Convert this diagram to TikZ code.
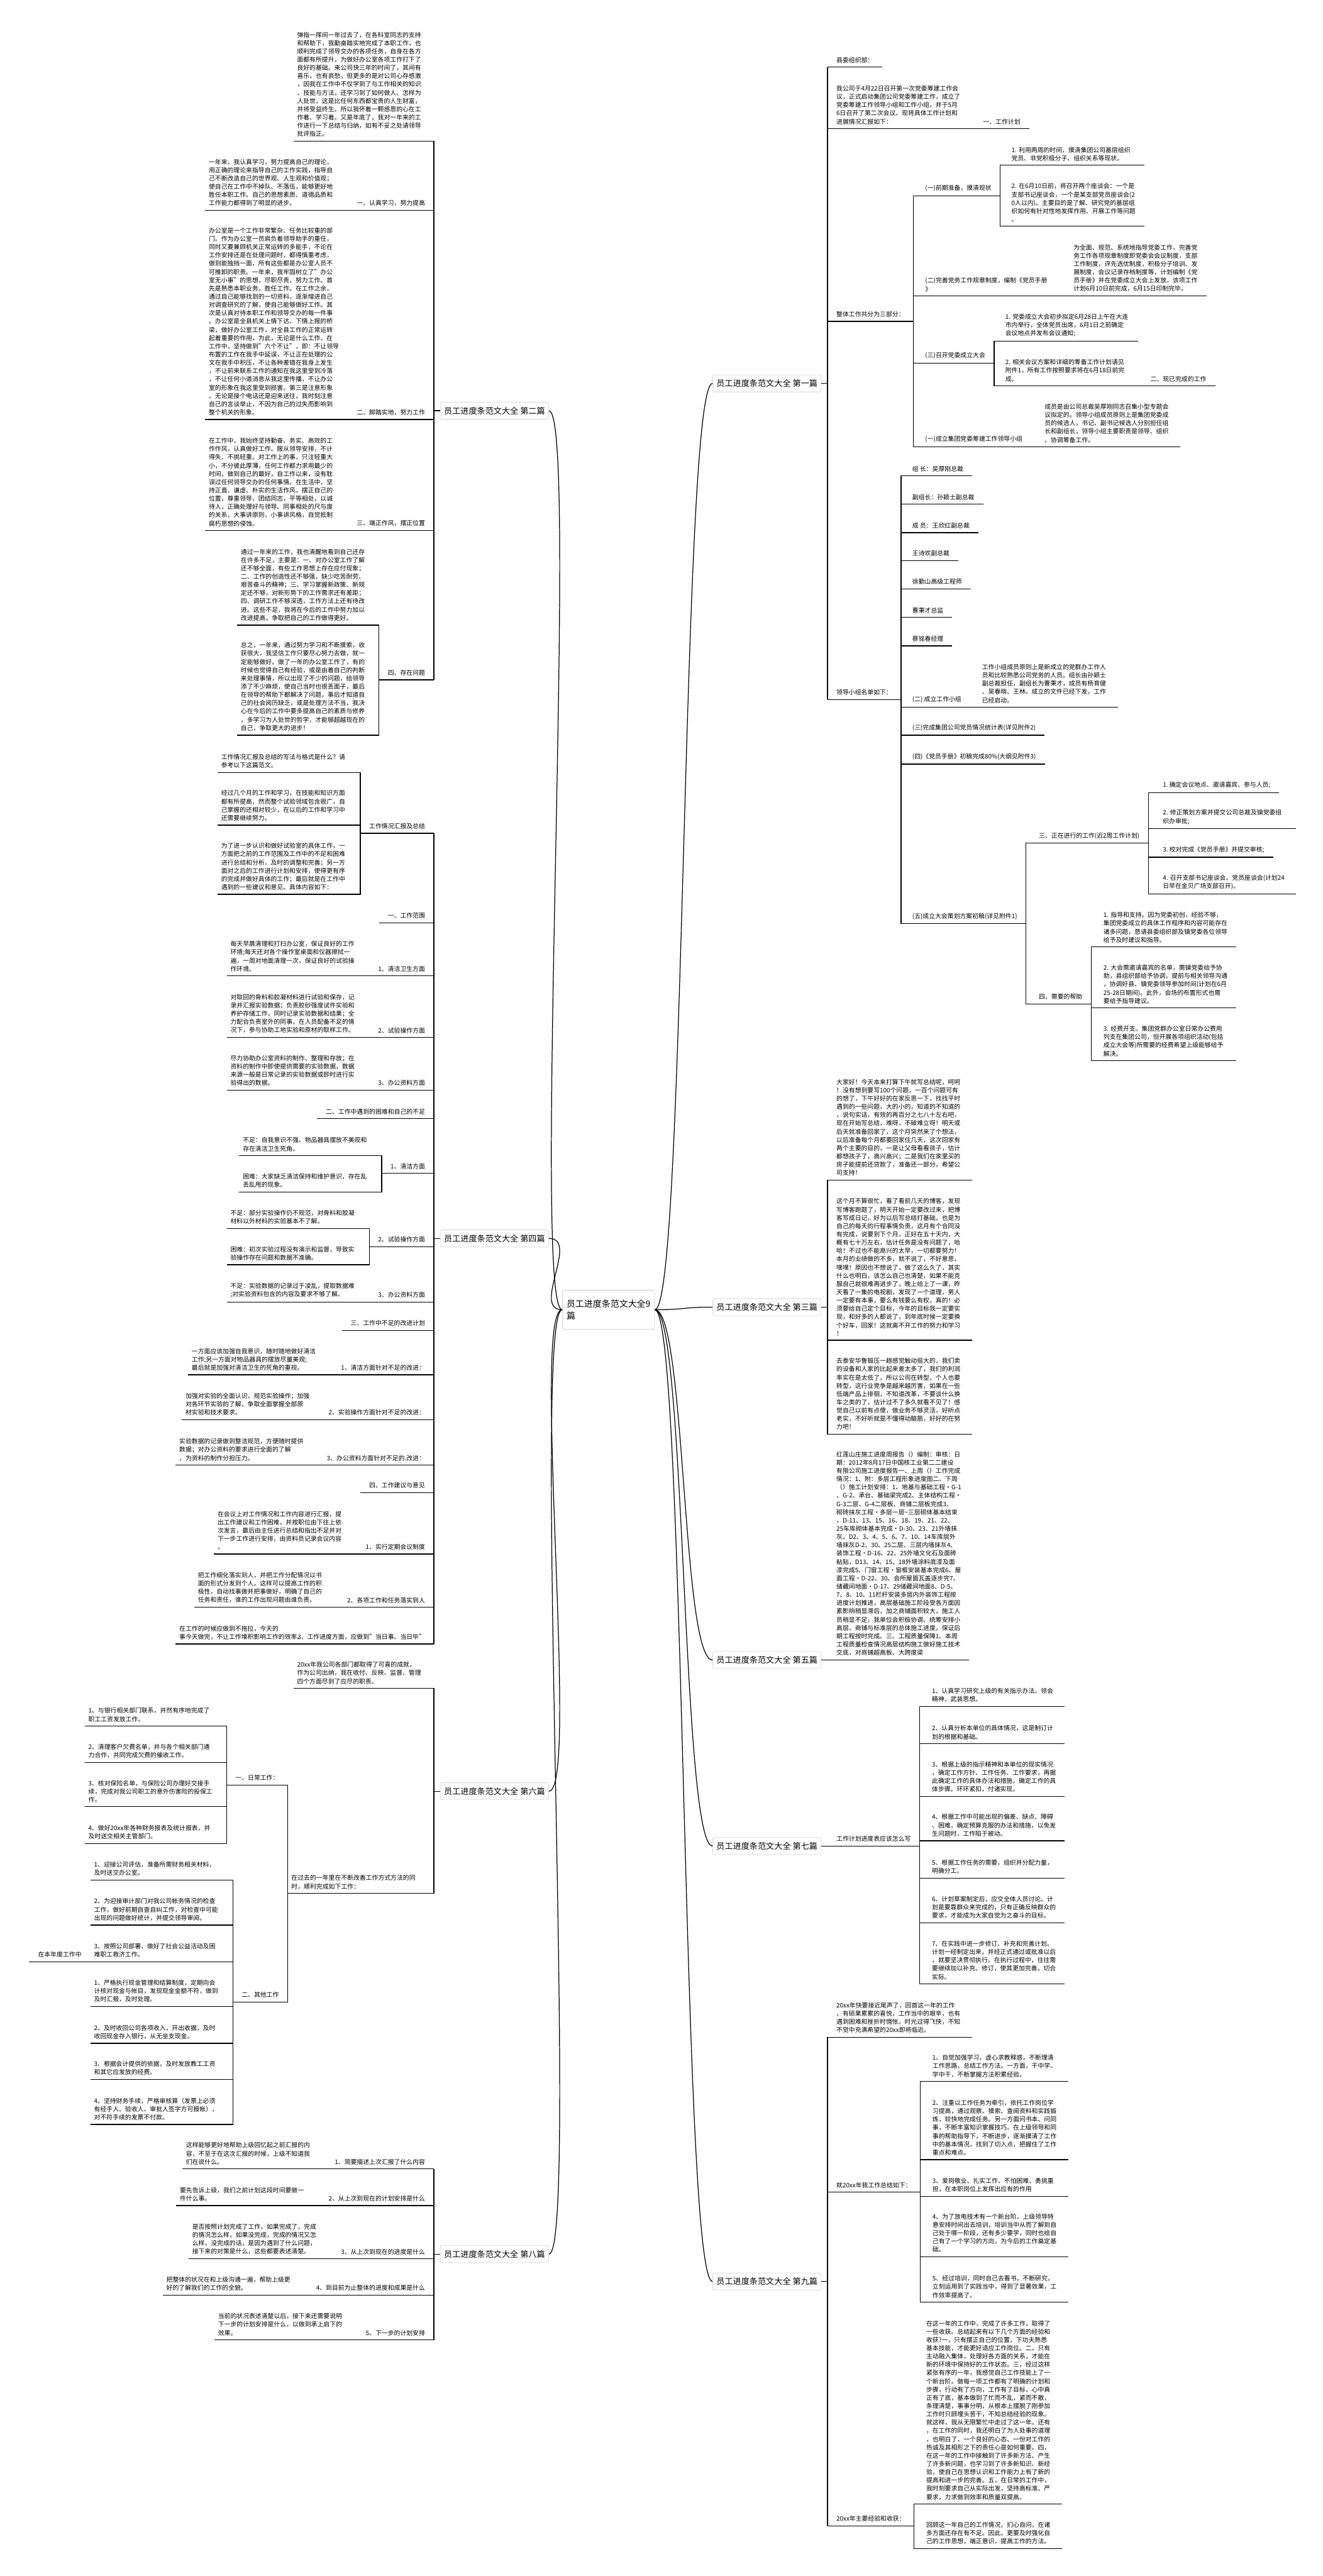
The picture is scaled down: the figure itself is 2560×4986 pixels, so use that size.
\documentclass[tikz,border=0pt]{standalone}
\usepackage{fontspec}
\setmainfont{Noto Sans CJK SC}
\newcommand\mmtext{\fontsize{12}{16}\selectfont}
\newcommand\mmhead{\fontsize{16}{20}\selectfont}
\newcommand\mmhub{\fontsize{17}{24}\selectfont}
\exhyphenpenalty=10000
\hyphenpenalty=10000
\tikzset{
  link/.style={line width=1.5pt, black},
  ul/.style={append after command={(\tikzlastnode.south west) edge[link] (\tikzlastnode.south east)}},
  lpara/.style={ul, font=\mmtext, anchor=south west, align=left, text width=254pt, inner xsep=7pt, inner ysep=8pt},
  llab/.style={ul, font=\mmtext, anchor=south east, inner xsep=17pt, inner ysep=8pt},
  rpara/.style={ul, font=\mmtext, anchor=south west, align=left, text width=246pt, inner xsep=17pt, inner ysep=8pt},
  rlab/.style={ul, font=\mmtext, anchor=south west, inner xsep=17pt, inner ysep=8pt},
  branch/.style={draw=black!15, line width=1pt, rounded corners=3pt, fill=white, font=\mmhead, inner xsep=7pt, inner ysep=9pt},
  hub/.style={draw=black!20, line width=1pt, rounded corners=4pt, fill=white, font=\mmhub, align=left, inner xsep=8pt, inner ysep=18pt},
}

\begin{document}
\begin{tikzpicture}[x=1pt,y=-1pt]
\fill[white] (0,0) rectangle (2560,4986);
\useasboundingbox (0,0) rectangle (2560,4986);

\node[hub] (hub) at (1178,2535) {员工进度条范文大全9\\篇};

% ---------- 第一篇
\node[branch, anchor=east] (b1) at (1590,742) {员工进度条范文大全 第一篇};
\coordinate (t1) at (1602,742);
\node[rlab] (s1a) at (1602,130) {县委组织部：};
\node[rpara] (s1b) at (1602,249) {我公司于4月22日召开第一次党委筹建工作会\\议，正式启动集团公司党委筹建工作，成立了\\党委筹建工作领导小组和工作小组，并于5月\\6日召开了第二次会议。现将具体工作计划和\\进展情况汇报如下：};
\node[rlab] (s1b1) at (1886,249) {一、工作计划};
\node[rlab] (s1c) at (1602,622) {整体工作共分为三部分：};
\node[rlab] (s1c1) at (1774,379) {(一)前期准备，摸清现状};
\node[rpara, text width=240pt] (s1c1a) at (1941,320) {1.~利用两周的时间，摸清集团公司基层组织\\党员、非党积极分子、组织关系等现状。};
\node[rpara, text width=240pt] (s1c1b) at (1941,438) {2.~在6月10日前，将召开两个座谈会：一个是\\支部书记座谈会，一个是某支部党员座谈会(2\\0人以内)。主要目的是了解、研究党的基层组\\织如何有针对性地发挥作用、开展工作等问题\\。};
\node[rpara, text width=240pt] (s1c2) at (1774,573) {(二)完善党务工作规章制度，编制《党员手册\\》};
\node[rpara, text width=240pt] (s1c2a) at (2061,573) {为全面、规范、系统地指导党委工作，完善党\\务工作各项规章制度即党委会会议制度，支部\\工作制度，评先选优制度，积极分子培训、发\\展制度，会议记录存档制度等，计划编制《党\\员手册》并在党委成立大会上发放，该项工作\\计划6月10日前完成，6月15日印制完毕。};
\node[rlab] (s1c3) at (1774,703) {(三)召开党委成立大会};
\node[rpara, text width=240pt] (s1c3a) at (1929,660) {1.~党委成立大会初步拟定6月28日上午在大连\\市内举行，全体党员出席，6月1日之前确定\\会议地点并发布会议通知;};
\node[rpara, text width=240pt] (s1c3b) at (1929,747) {2.~相关会议方案和详细的筹备工作计划请见\\附件1，所有工作按照要求将在6月18日前完\\成。};
\node[rlab] (s1c3b1) at (2210,747) {二、现已完成的工作};
\node[rlab] (s1c4) at (1774,865) {(一)成立集团党委筹建工作领导小组};
\node[rpara] (s1c4a) at (2005,865) {成员是由公司总裁吴厚刚同志召集小型专题会\\议拟定的。领导小组成员原则上是集团党委成\\员的候选人，书记、副书记候选人分别担任组\\长和副组长，领导小组主要职责是领导、组织\\、协调筹备工作。};
\node[rlab] (s1d) at (1602,1354) {领导小组名单如下：};
\node[rlab] (s1d1) at (1749,921) {组~长：吴厚刚总裁};
\node[rlab] (s1d2) at (1749,976) {副组长：孙颖士副总裁};
\node[rlab] (s1d3) at (1749,1031) {成~员：王欣红副总裁};
\node[rlab] (s1d4) at (1749,1085) {王诗欢副总裁};
\node[rlab] (s1d5) at (1749,1140) {徐勤山高级工程师};
\node[rlab] (s1d6) at (1749,1195) {曹秉才总监};
\node[rlab] (s1d7) at (1749,1250) {蔡铭春经理};
\node[rlab] (s1d8) at (1749,1369) {(二)~成立工作小组};
\node[rpara] (s1d8a) at (1884,1369) {工作小组成员原则上是新成立的党群办工作人\\员和比较熟悉公司党务的人员。组长由孙颖士\\副总裁担任，副组长为曹秉才，成员有杨育健\\、吴春晓、王林。成立的文件已经下发，工作\\已经启动。};
\node[rlab] (s1d9) at (1749,1423) {(三)完成集团公司党员情况统计表(详见附件2)};
\node[rlab] (s1d10) at (1749,1479) {(四)《党员手册》初稿完成80\%(大纲见附件3)};
\node[rlab] (s1d11) at (1749,1788) {(五)成立大会策划方案初稿(详见附件1)};
\node[rlab] (s1e1) at (1994,1632) {三、正在进行的工作(近2周工作计划)};
\node[rlab] (s1e1a) at (2234,1534) {1.~确定会议地点、邀请嘉宾、参与人员;};
\node[rpara, text width=240pt] (s1e1b) at (2234,1604) {2.~修正策划方案并提交公司总裁及镇党委组\\织办审批;};
\node[rlab] (s1e1c) at (2234,1659) {3.~校对完成《党员手册》并提交审核;};
\node[rpara, text width=240pt] (s1e1d) at (2234,1730) {4.~召开支部书记座谈会、党员座谈会(计划24\\日早在金贝广场支部召开)。};
\node[rlab] (s1e2) at (1994,1943) {四、需要的帮助};
\node[rpara, text width=240pt] (s1e2a) at (2119,1833) {1.~指导和支持。因为党委初创，经验不够，\\集团党委成立的具体工作程序和内容可能存在\\诸多问题，恳请县委组织部及镇党委各位领导\\给予及时建议和指导。};
\node[rpara, text width=240pt] (s1e2b) at (2119,1951) {2.~大会需邀请嘉宾的名单，需镇党委给予协\\助，县组织部给予协调，提前与相关领导沟通\\，协调好县、镇党委领导参加时间(计划在6月\\25-28日期间)。此外，会场的布置形式也需\\要给予指导建议。};
\node[rpara, text width=240pt] (s1e2c) at (2119,2053) {3.~经费开支。集团党群办公室日常办公费用\\列支在集团公司，但开展各项组织活动(包括\\成立大会等)所需要的经费希望上级能够给予\\解决。};

\draw[link] (b1.east) -- (t1);
\foreach \c in {s1a,s1b,s1c,s1d} \draw[link] (t1) |- (\c.south west);
\foreach \p/\c in {s1b/s1b1, s1c/s1c1, s1c/s1c2, s1c/s1c3, s1c/s1c4, s1c1/s1c1a, s1c1/s1c1b, s1c2/s1c2a, s1c3/s1c3a, s1c3/s1c3b, s1c3b/s1c3b1, s1c4/s1c4a, s1d/s1d1, s1d/s1d2, s1d/s1d3, s1d/s1d4, s1d/s1d5, s1d/s1d6, s1d/s1d7, s1d/s1d8, s1d/s1d9, s1d/s1d10, s1d/s1d11, s1d8/s1d8a, s1d11/s1e1, s1d11/s1e2, s1e1/s1e1a, s1e1/s1e1b, s1e1/s1e1c, s1e1/s1e1d, s1e2/s1e2a, s1e2/s1e2b, s1e2/s1e2c}
  \draw[link] (\p.south east) |- (\c.south west);

% ---------- 第二篇
\node[branch, anchor=west] (b2) at (852,795) {员工进度条范文大全 第二篇};
\coordinate (t2) at (840,795);
\node[lpara, text width=258pt] (s2a) at (568,273) {弹指一挥间一年过去了，在各科室同志的支持\\和帮助下，我勤奋踏实地完成了本职工作，也\\顺利完成了领导交办的各项任务，自身在各方\\面都有所提升，为做好办公室各项工作打下了\\良好的基础。来公司快三年的时间了，其间有\\喜乐，也有哀愁，但更多的是对公司心存感激\\，因我在工作中不仅学到了与工作相关的知识\\、技能与方法，还学习到了如何做人、怎样为\\人处世，这是比任何东西都宝贵的人生财富，\\并将受益终生。所以我怀着一颗感恩的心在工\\作着、学习着。又是年底了，我对一年来的工\\作进行一下总结与归纳，如有不妥之处请领导\\批评指正。};
\node[llab] (s2b) at (840,407) {一、认真学习，努力提高};
\node[lpara] (s2b1) at (397,407) {一年来，我认真学习，努力提高自己的理论，\\用正确的理论来指导自己的工作实践，指导自\\己不断改造自己的世界观、人生观和价值观；\\使自己在工作中不掉队、不落伍，能够更好地\\胜任本职工作。自己的思想素质、道德品质和\\工作能力都得到了明显的进步。};
\node[llab] (s2c) at (840,812) {二、脚踏实地，努力工作};
\node[lpara] (s2c1) at (397,812) {办公室是一个工作非常繁杂、任务比较重的部\\门。作为办公室一员肩负着领导助手的重任，\\同时又要兼顾机关正常运转的多能手，不论在\\工作安排还是在处理问题时，都得慎重考虑，\\做到能独挡一面，所有这些都是办公室人员不\\可推卸的职责。一年来，我牢固树立了"办公\\室无小事"的思想，尽职尽责，努力工作。首\\先是熟悉本职业务，胜任工作。在工作之余，\\通过自己能够找到的一切资料，逐渐增进自己\\对调查研究的了解，使自己能够做好工作。其\\次是认真对待本职工作和领导交办的每一件事\\。办公室是全县机关上情下达、下情上报的桥\\梁，做好办公室工作，对全县工作的正常运转\\起着重要的作用，为此，无论是什么工作，在\\工作中，坚持做到"六个不让"，即：不让领导\\布置的工作在我手中延误，不让正在处理的公\\文在我手中积压，不让各种差错在我身上发生\\，不让前来联系工作的通知在我这里受到冷落\\，不让任何小道消息从我这里传播，不让办公\\室的形象在我这里受到损害。第三是注意形象\\。无论是接个电话还是迎来送往，我时刻注意\\自己的言谈举止，不因为自己的过失而影响到\\整个机关的形象。};
\node[llab] (s2d) at (840,1027) {三、端正作风，摆正位置};
\node[lpara] (s2d1) at (397,1027) {在工作中，我始终坚持勤奋、务实、高效的工\\作作风，认真做好工作。服从领导安排，不计\\得失、不挑轻重。对工作上的事，只注轻重大\\小，不分彼此厚薄，任何工作都力求用最少的\\时间，做到自己的最好，自工作以来，没有耽\\误过任何领导交办的任何事情。在生活中，坚\\持正直、谦虚、朴实的生活作风，摆正自己的\\位置，尊重领导，团结同志，平等相处，以诚\\待人，正确处理好与领导、同事相处的尺与度\\的关系，大事讲原则，小事讲风格，自觉抵制\\腐朽思想的侵蚀。};
\node[llab] (s2e) at (840,1316) {四、存在问题};
\node[lpara] (s2e1) at (459,1210) {通过一年来的工作，我也清醒地看到自己还存\\在许多不足，主要是：一、对办公室工作了解\\还不够全面，有些工作思想上存在应付现象；\\二、工作的创造性还不够强，缺少吃苦耐劳、\\艰苦奋斗的精神；三、学习掌握新政策、新规\\定还不够，对新形势下的工作需求还有差距；\\四、调研工作不够深透，工作方法上还有待改\\进。这些不足，我将在今后的工作中努力加以\\改进提高，争取把自己的工作做得更好。};
\node[lpara] (s2e2) at (459,1423) {总之，一年来，通过努力学习和不断摸索，收\\获很大，我坚信工作只要尽心努力去做，就一\\定能够做好。做了一年的办公室工作了，有的\\时候也觉得自己有经验，或是由着自己的判断\\来处理事情，所以出现了不少的问题，给领导\\添了不少麻烦，使自己当时也很丢面子，最后\\在领导的帮助下都解决了问题，事后才知道自\\己的社会阅历缺乏，或是处理方法不当，我决\\心在今后的工作中要多提高自己的素质与修养\\，多学习为人处世的哲学，才能够超越现在的\\自己，争取更大的进步！};

\draw[link] (b2.west) -- (t2);
\foreach \c in {s2a,s2b,s2c,s2d,s2e} \draw[link] (t2) |- (\c.south east);
\foreach \p/\c in {s2b/s2b1, s2c/s2c1, s2d/s2d1, s2e/s2e1, s2e/s2e2}
  \draw[link] (\p.south west) |- (\c.south east);

% ---------- 第三篇
\node[branch, anchor=east] (b3) at (1590,2530) {员工进度条范文大全 第三篇};
\coordinate (t3) at (1602,2530);
\node[rpara] (s3a) at (1602,2284) {大家好！今天本来打算下午就写总结呢，呵呵\\！没有想到要写100个问题，一百个问题可有\\的想了，下午好好的在家反思一下，找找平时\\遇到的一些问题，大的小的，知道的不知道的\\，说句实话，有效的再百分之七八十左右吧，\\现在开始写总结，难呀，不破难立呀！明天或\\后天就准备回家了，这个月突然来了个想法，\\以后准备每个月都要回家住几天，这次回家有\\两个主要的目的，一是让父母看看孩子，估计\\都想孩子了，高兴高兴；二是我们在家里买的\\房子能提前还贷款了，准备还一部分，希望公\\司支持！};
\node[rpara] (s3b) at (1602,2594) {这个月不算很忙，看了看前几天的博客，发现\\写博客跑题了，明天开始一定要改过来，把博\\客写成日记，好为以后写总结打基础，也是为\\自己的每天的行程事情负责，这月有个合同没\\有完成，说要到下个月，正好在五十天内，大\\概有七十万左右，估计任务是没有问题了，哈\\哈！不过也不能高兴的太早，一切都要努力！\\本月的业绩做的不多，就不说了，不好意思，\\嘿嘿！原因也不想说了，做了这么久了，其实\\什么也明白，该怎么自己也清楚，如果不能克\\服自己就很难再进步了，晚上给上了一课，昨\\天看了一集的电视剧，发现了一个道理，男人\\一定要有本事，要么有钱要么有权，真的！必\\须要给自己定个目标，今年的目标我一定要实\\现，和好多的人都说了，到年底时候一定要换\\个好车，回家！这就离不开工作的努力和学习\\！};
\node[rpara] (s3c) at (1602,2776) {去泰安华鲁锻压一趟感觉触动挺大的，我们卖\\的设备和人家的比起来差太多了，我们的利润\\率实在是太低了，所以公司在转型，个人也要\\转型，这行业竞争是越来越厉害，如果在一些\\低端产品上徘徊，不知道改革，不要谈什么换\\车之类的了，估计过不了多久就看不见了！感\\觉自己以前有点傻，做业务不够灵活，好听点\\老实，不好听就是不懂得动脑筋，好好的在努\\力吧！};
\draw[link] (b3.east) -- (t3);
\foreach \c in {s3a,s3b,s3c} \draw[link] (t3) |- (\c.south west);

% ---------- 第四篇
\node[branch, anchor=west] (b4) at (852,2397) {员工进度条范文大全 第四篇};
\coordinate (t4) at (840,2397);
\node[llab] (s4a) at (840,1613) {工作情况汇报及总结};
\node[lpara] (s4a1) at (421,1495) {工作情况汇报及总结的写法与格式是什么？请\\参考以下这篇范文。};
\node[lpara] (s4a2) at (421,1597) {经过几个月的工作和学习，在技能和知识方面\\都有所提高，然而整个试验领域包含很广，自\\己掌握的还相对较少，在以后的工作和学习中\\还需要继续努力。};
\node[lpara] (s4a3) at (421,1731) {为了进一步认识和做好试验室的具体工作，一\\方面把之前的工作范围及工作中的不足和困难\\进行总结和分析，及时的调整和完善；另一方\\面对之后的工作进行计划和安排，使得更有序\\的完成并做好具体的工作；最后就是在工作中\\遇到的一些建议和意见。具体内容如下：};
\node[llab] (s4b) at (840,1786) {一、工作范围};
\node[llab] (s4c) at (840,1889) {1、清洁卫生方面};
\node[lpara] (s4c1) at (439,1889) {每天早晨清理和打扫办公室，保证良好的工作\\环境;每天还对各个操作室桌面和仪器擦拭一\\遍，一周对地面清理一次，保证良好的试验操\\作环境。};
\node[llab] (s4d) at (840,2008) {2、试验操作方面};
\node[lpara] (s4d1) at (439,2008) {对取回的骨料和胶凝材料进行试验和保存，记\\录并汇报实验数据；负责胶砂强度试件实验和\\养护存储工作，同时记录实验数据和结果；全\\力配合负责室外的同事，在人员配备不足的情\\况下，参与协助工地实验和原材的取样工作。};
\node[llab] (s4e) at (840,2110) {3、办公资料方面};
\node[lpara] (s4e1) at (439,2110) {尽力协助办公室资料的制作、整理和存放；在\\资料的制作中即使提供需要的实验数据，数据\\来源一般是日常记录的实验数据或即时进行实\\验得出的数据。};
\node[llab] (s4f) at (840,2165) {二、工作中遇到的困难和自己的不足};
\node[llab] (s4g) at (840,2271) {1、清洁方面};
\node[lpara] (s4g1) at (463,2237) {不足：自我意识不强、物品器具摆放不美观和\\存在清洁卫生死角。};
\node[lpara] (s4g2) at (463,2307) {困难：大家缺乏清洁保持和维护意识，存在乱\\丢乱甩的现象。};
\node[llab] (s4h) at (840,2413) {2、试验操作方面};
\node[lpara] (s4h1) at (439,2378) {不足：部分实验操作仍不规范，对骨料和胶凝\\材料以外材料的实验基本不了解。};
\node[lpara] (s4h2) at (439,2448) {困难：初次实验过程没有演示和监督，导致实\\验操作存在问题和数据不准确。};
\node[llab] (s4i) at (840,2520) {3、办公资料方面};
\node[lpara] (s4i1) at (439,2520) {不足：实验数据的记录过于凌乱，提取数据难\\;对实验资料包含的内容及要求不够了解。};
\node[llab] (s4j) at (840,2575) {三、工作中不足的改进计划};
\node[llab] (s4k) at (840,2661) {1、清洁方面针对不足的改进：};
\node[lpara] (s4k1) at (364,2661) {一方面应该加强自我意识，随时随地做好清洁\\工作;另一方面对物品器具的摆放尽量美观;\\最后就是加强对清洁卫生的死角的重视。};
\node[llab] (s4l) at (840,2748) {2、实验操作方面针对不足的改进：};
\node[lpara] (s4l1) at (352,2748) {加强对实验的全面认识，规范实验操作；加强\\对各环节实验的了解，争取全面掌握全部原\\材实验和技术要求。};
\node[llab] (s4m) at (840,2836) {3、办公资料方面针对不足的.改进：};
\node[lpara] (s4m1) at (340,2836) {实验数据的记录做到整洁规范，方便随时提供\\数据；对办公资料的要求进行全面的了解\\，为资料的制作分担压力。};
\node[llab] (s4n) at (840,2889) {四、工作建议与意见};
\node[llab] (s4o) at (840,3008) {1、实行定期会议制度};
\node[lpara] (s4o1) at (414,3008) {在会议上对工作情况和工作内容进行汇报，提\\出工作建议和工作困难，并按职位由下往上依\\次发言，最后由主任进行总结和指出不足并对\\下一步工作进行安排，由资料员记录会议内容\\。};
\node[llab] (s4p) at (840,3111) {2、各项工作和任务落实到人};
\node[lpara] (s4p1) at (376,3111) {把工作细化落实到人，并把工作分配情况以书\\面的形式分发到个人。这样可以提高工作的积\\极性，自动找事做并把事做好，明确了自己的\\任务和责任，谁的工作出现问题由谁负责。};
\node[llab] (s4q) at (840,3182) {3、工作进度方面，应做到"当日事、当日毕"};
\node[lpara, text width=200pt] (s4q1) at (340,3182) {在工作的时候应做到不拖拉，今天的\\事今天做完，不让工作堆积影响工作的效率。};

\draw[link] (b4.west) -- (t4);
\foreach \c in {s4a,s4b,s4c,s4d,s4e,s4f,s4g,s4h,s4i,s4j,s4k,s4l,s4m,s4n,s4o,s4p,s4q} \draw[link] (t4) |- (\c.south east);
\foreach \p/\c in {s4a/s4a1, s4a/s4a2, s4a/s4a3, s4c/s4c1, s4d/s4d1, s4e/s4e1, s4g/s4g1, s4g/s4g2, s4h/s4h1, s4h/s4h2, s4i/s4i1, s4k/s4k1, s4l/s4l1, s4m/s4m1, s4o/s4o1, s4p/s4p1, s4q/s4q1}
  \draw[link] (\p.south west) |- (\c.south east);

% ---------- 第五篇
\node[branch, anchor=east] (b5) at (1590,3213) {员工进度条范文大全 第五篇};
\coordinate (t5) at (1602,3213);
\node[rpara, text width=240pt] (s5a) at (1602,3213) {红莲山庄施工进度周报告（）编制：审核：日\\期：2012年8月17日中国核工业第二二建设\\有限公司施工进度报告一、上周（）工作完成\\情况：1、附：多层工程形象进度图二、下周\\（）施工计划安排：1、地基与基础工程•G-1\\、G-2、承台、基础梁完成2、主体结构工程•\\G-3二层、G-4二层板、商铺二层板完成3、\\砌砖抹灰工程•多层一层\textasciitilde 三层砌体基本结束\\，D-11、13、15、16、18、19、21、22、\\25车库砌体基本完成•D-30、23、21外墙抹\\灰。D2、3、4、5、6、7、10、14车库层外\\墙抹灰D-2、30、25二层、三层内墙抹灰4、\\装饰工程•D-16、22、25外墙文化石及面砖\\粘贴，D13、14、15、18外墙涂料底漆及面\\漆完成5、门窗工程•窗框安装基本完成6、屋\\面工程•D-22、30、会所屋面瓦盖逐步完7、\\储藏间地面•D-17、29储藏间地面8、D-5、\\7、8、10、11栏杆安装多层内外装饰工程按\\进度计划推进，高层基础施工阶段受各方面因\\素影响稍显滞后，加之商铺面积较大，施工人\\员稍显不足，我单位会积极协调、统筹安排小\\高层、商铺与标准层的总体施工进度，保证后\\期工程按时完成。三、工程质量保障1、本周\\工程质量检查情况高层结构施工做好施工技术\\交底，对商铺超高板、大跨度梁};
\draw[link] (b5.east) -- (t5) |- (s5a.south west);

% ---------- 第六篇
\node[branch, anchor=west] (b6) at (852,3467) {员工进度条范文大全 第六篇};
\coordinate (t6) at (840,3467);
\node[lpara, text width=258pt] (s6a) at (568,3268) {20xx年我公司各部门都取得了可喜的成就，\\作为公司出纳，我在收付、反映、监督、管理\\四个方面尽到了应尽的职责。};
\node[lpara, text width=269pt] (s6b) at (557,3665) {在过去的一年里在不断改善工作方式方法的同\\时，顺利完成如下工作：};
\node[llab] (s6c) at (557,3455) {一、日常工作：};
\node[lpara] (s6c1) at (164,3341) {1、与银行相关部门联系，并然有序地完成了\\职工工资发放工作。};
\node[lpara] (s6c2) at (164,3411) {2、清理客户欠费名单，并与各个相关部门通\\力合作，共同完成欠费的催收工作。};
\node[lpara] (s6c3) at (164,3497) {3、核对保险名单，与保险公司办理好交接手\\续，完成对我公司职工的意外伤害险的投保工\\作。};
\node[lpara] (s6c4) at (164,3568) {4、做好20xx年各种财务报表及统计报表，并\\及时送交相关主管部门。};
\node[llab] (s6d) at (557,3875) {二、其他工作};
\node[lpara] (s6d1) at (175,3639) {1、迎接公司评估，准备所需财务相关材料，\\及时送交办公室。};
\node[lpara] (s6d2) at (175,3726) {2、为迎接审计部门对我公司帐务情况的检查\\工作，做好前期自查自纠工作，对检查中可能\\出现的问题做好统计，并提交领导审阅。};
\node[lpara] (s6d3) at (175,3797) {3、按照公司部署，做好了社会公益活动及困\\难职工救济工作。};
\node[llab] (s6d3a) at (175,3797) {在本年度工作中};
\node[lpara] (s6d4) at (175,3884) {1、严格执行现金管理和结算制度，定期向会\\计核对现金与帐目，发现现金金额不符，做到\\及时汇报，及时处理。};
\node[lpara] (s6d5) at (175,3955) {2、及时收回公司各项收入，开出收据，及时\\收回现金存入银行，从无坐支现金。};
\node[lpara] (s6d6) at (175,4025) {3、根据会计提供的依据，及时发放教工工资\\和其它应发放的经费。};
\node[lpara] (s6d7) at (175,4112) {4、坚持财务手续，严格审核算（发票上必须\\有经手人、验收人、审批人签字方可报帐），\\对不符手续的发票不付款。};

\draw[link] (b6.west) -- (t6);
\foreach \c in {s6a,s6b} \draw[link] (t6) |- (\c.south east);
\foreach \p/\c in {s6b/s6c, s6b/s6d, s6c/s6c1, s6c/s6c2, s6c/s6c3, s6c/s6c4, s6d/s6d1, s6d/s6d2, s6d/s6d3, s6d/s6d4, s6d/s6d5, s6d/s6d6, s6d/s6d7, s6d3/s6d3a}
  \draw[link] (\p.south west) |- (\c.south east);

% ---------- 第七篇
\node[branch, anchor=east] (b7) at (1590,3573) {员工进度条范文大全 第七篇};
\coordinate (t7) at (1602,3573);
\node[rlab] (s7a) at (1602,3573) {工作计划进度表应该怎么写};
\node[rpara, text width=240pt] (s7a1) at (1787,3303) {1、认真学习研究上级的有关指示办法。领会\\精神，武装思想。};
\node[rpara, text width=240pt] (s7a2) at (1787,3375) {2、认真分析本单位的具体情况，这是制订计\\划的根据和基础。};
\node[rpara, text width=240pt] (s7a3) at (1787,3477) {3、根据上级的指示精神和本单位的现实情况\\，确定工作方针、工作任务、工作要求，再据\\此确定工作的具体办法和措施，确定工作的具\\体步骤。环环紧扣，付诸实现。};
\node[rpara, text width=240pt] (s7a4) at (1787,3563) {4、根据工作中可能出现的偏差、缺点、障碍\\、困难，确定预算克服的办法和措施，以免发\\生问题时，工作陷于被动。};
\node[rpara, text width=240pt] (s7a5) at (1787,3635) {5、根据工作任务的需要，组织并分配力量，\\明确分工。};
\node[rpara, text width=240pt] (s7a6) at (1787,3722) {6、计划草案制定后，应交全体人员讨论。计\\划是要靠群众来完成的，只有正确反映群众的\\要求，才能成为大家自觉为之奋斗的目标。};
\node[rpara, text width=240pt] (s7a7) at (1787,3840) {7、在实践中进一步修订、补充和完善计划。\\计划一经制定出来，并经正式通过或批准以后\\，就要坚决贯彻执行。在执行过程中，往往需\\要继续加以补充、修订，使其更加完善，切合\\实际。};
\draw[link] (b7.east) -- (t7) |- (s7a.south west);
\foreach \c in {s7a1,s7a2,s7a3,s7a4,s7a5,s7a6,s7a7} \draw[link] (s7a.south east) |- (\c.south west);

% ---------- 第八篇
\node[branch, anchor=west] (b8) at (852,4363) {员工进度条范文大全 第八篇};
\coordinate (t8) at (840,4363);
\node[llab] (s8a) at (840,4198) {1、简要描述上次汇报了什么内容};
\node[lpara] (s8a1) at (353,4198) {这样能够更好地帮助上级回忆起之前汇报的内\\容，不至于在这次汇报的时候，上级不知道我\\们在说什么。};
\node[llab] (s8b) at (840,4269) {2、从上次到现在的计划安排是什么};
\node[lpara] (s8b1) at (341,4269) {要先告诉上级，我们之前计划这段时间要做一\\件什么事。};
\node[llab] (s8c) at (840,4372) {3、从上次到现在的进度是什么};
\node[lpara] (s8c1) at (365,4372) {是否按照计划完成了工作，如果完成了，完成\\的情况怎么样，如果没完成，完成的情况又怎\\么样，没完成的话，是因为遇到了什么问题，\\接下来的对策是什么，这些都要表述清楚。};
\node[llab] (s8d) at (840,4442) {4、到目前为止整体的进度和成果是什么};
\node[lpara] (s8d1) at (315,4442) {把整体的状况在和上级沟通一遍，帮助上级更\\好的了解我们的工作的全貌。};
\node[llab] (s8e) at (840,4529) {5、下一步的计划安排};
\node[lpara] (s8e1) at (415,4529) {当前的状况表述清楚以后，接下来还需要说明\\下一步的计划安排是什么，以做到承上启下的\\效果。};
\draw[link] (b8.west) -- (t8);
\foreach \c in {s8a,s8b,s8c,s8d,s8e} \draw[link] (t8) |- (\c.south east);
\foreach \p/\c in {s8a/s8a1, s8b/s8b1, s8c/s8c1, s8d/s8d1, s8e/s8e1}
  \draw[link] (\p.south west) |- (\c.south east);

% ---------- 第九篇
\node[branch, anchor=east] (b9) at (1590,4416) {员工进度条范文大全 第九篇};
\coordinate (t9) at (1602,4416);
\node[rpara] (s9a) at (1602,3943) {20xx年快要接近尾声了，回首这一年的工作\\，有硕果累累的喜悦，工作当中的艰辛，也有\\遇到困难和挫折时惆怅。时光过得飞快，不知\\不觉中充满希望的20xx即将临近。};
\node[rlab] (s9b) at (1602,4243) {就20xx年我工作总结如下：};
\node[rpara] (s9b1) at (1788,4029) {1、自觉加强学习，虚心求教释惑，不断理清\\工作思路，总结工作方法。一方面，干中学、\\学中干，不断掌握方法积累经验。};
\node[rpara] (s9b2) at (1788,4180) {2、注重以工作任务为牵引，依托工作岗位学\\习提高，通过观察、摸索、查阅资料和实践锻\\炼，较快地完成任务。另一方面问书本、问同\\事，不断丰富知识掌握技巧。在上级领导和同\\事的帮助指导下，不断进步，逐渐摸清了工作\\中的基本情况，找到了切入点，把握住了工作\\重点和难点。};
\node[rpara] (s9b3) at (1788,4251) {3、爱岗敬业、扎实工作、不怕困难、勇挑重\\担，在本职岗位上发挥出应有的作用};
\node[rpara] (s9b4) at (1788,4368) {4、为了放电技术有一个新台阶，上级领导特\\意安排时间出去培训，培训当中从而了解到自\\己处于哪一阶段，还有多少要学，同时也给自\\己有了一个学习的方向，为今后的工作奠定基\\础。};
\node[rpara] (s9b5) at (1788,4456) {5、经过培训，同时自己去看书，不断研究，\\立刻运用到了实践当中，得到了显著效果，工\\作效率提高了。};
\node[rlab] (s9c) at (1602,4889) {20xx年主要经验和收获：};
\node[rpara] (s9c1) at (1776,4847) {在这一年的工作中，完成了许多工作，取得了\\一些收获。总结起来有以下几个方面的经验和\\收获?一，只有摆正自己的位置，下功夫熟悉\\基本技能，才能更好适应工作岗位。二，只有\\主动融入集体，处理好各方面的关系，才能在\\新的环境中保持好的工作状态。三，经过这样\\紧张有序的一年，我感觉自己工作技能上了一\\个新台阶。做每一项工作都有了明确的计划和\\步骤，行动有了方向，工作有了目标，心中真\\正有了底，基本做到了忙而不乱，紧而不散，\\条理清楚，事事分明，从根本上摆脱了刚参加\\工作时只顾埋头苦干，不知总结经验的现象。\\就这样，我从无限繁忙中走过了这一年。还有\\，在工作的同时，我还明白了为人处事的道理\\，也明白了，一个良好的心态、一份对工作的\\热诚及其相形之下的责任心是如何重要。四，\\在这一年的工作中接触到了许多新方法、产生\\了许多新问题，也学习到了许多新知识、新经\\验，使自己在思想认识和工作能力上有了新的\\提高和进一步的完善。五，在日常的工作中，\\我时刻要求自己从实际出发，坚持高标准、严\\要求，力求做到效率和质量双提高。};
\node[rpara] (s9c2) at (1776,4933) {回顾这一年自己的工作情况，扪心自问，在诸\\多方面还存在有不足。因此，更要及时强化自\\己的工作思想，端正意识，提高工作的方法。};
\draw[link] (b9.east) -- (t9);
\foreach \c in {s9a,s9b,s9c} \draw[link] (t9) |- (\c.south west);
\foreach \p/\c in {s9b/s9b1, s9b/s9b2, s9b/s9b3, s9b/s9b4, s9b/s9b5, s9c/s9c1, s9c/s9c2}
  \draw[link] (\p.south east) |- (\c.south west);

% hub to branches
\foreach \b in {b1,b3,b5,b7,b9}
  \draw[link] (hub.east) .. controls +(60,0) and +(-60,0) .. (\b.west);
\foreach \b in {b2,b4,b6,b8}
  \draw[link] (hub.west) .. controls +(-60,0) and +(60,0) .. (\b.east);
\end{tikzpicture}
\end{document}
